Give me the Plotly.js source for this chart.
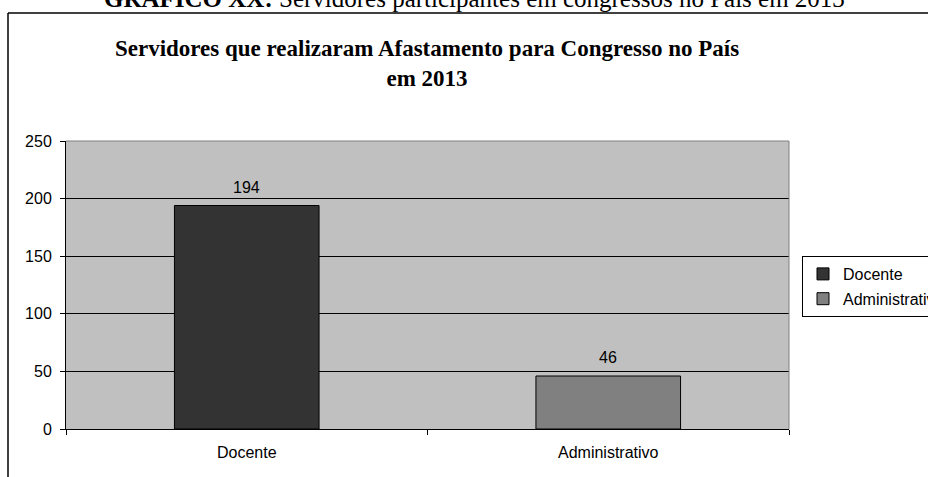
<!DOCTYPE html>
<html>
<head>
<meta charset="utf-8">
<script src="https://cdn.plot.ly/plotly-3.0.1.min.js"></script>
<style>html,body{margin:0;padding:0;background:#fff;}#chart{width:928px;height:477px;}</style>
</head>
<body>
<div id="chart"></div>
<script>
var categories = ["Docente", "Administrativo"];
var values = [194, 46];
var seriesNames = ["Docente", "Administrativo"];
var barColors = ["#333333", "#808080"];
var yTicks = [0, 50, 100, 150, 200, 250];

var W = 928, H = 477;
var L = 66, R = 789, T = 141, B = 429;
function px(x) { return (x - L) / (R - L); }
function py(y) { return (B - y) / (B - T); }

var sans = "Liberation Sans, Arial, sans-serif";
var serif = "Liberation Serif, Times New Roman, serif";

var traces = categories.map(function (c, i) {
  return {
    type: "bar",
    x: [c],
    y: [values[i]],
    name: seriesNames[i],
    legendgroup: "g" + i,
    marker: { color: barColors[i], line: { color: "#000", width: 1 } },
    width: 0.4,
    hoverinfo: "x+y"
  };
});

var annotations = categories.map(function (c, i) {
  return {
    x: c, y: values[i], xref: "x", yref: "y",
    text: String(values[i]), showarrow: false,
    yanchor: "bottom", yshift: 8,
    font: { family: sans, size: 16, color: "#000" }
  };
});
annotations.push({
  xref: "paper", yref: "paper", x: px(474), y: py(14), xanchor: "center", yanchor: "bottom",
  text: "<b>GRÁFICO XX:</b> Servidores participantes em congressos no País em 2013",
  showarrow: false,
  font: { family: serif, size: 25, color: "#000" }
});

var shapes = [
  { type: "line", xref: "paper", yref: "paper", x0: px(8), x1: px(940), y0: py(13), y1: py(13), line: { color: "#000", width: 1.5 } },
  { type: "line", xref: "paper", yref: "paper", x0: px(8), x1: px(8), y0: py(13), y1: py(490), line: { color: "#000", width: 1.5 } },
  { type: "line", xref: "paper", yref: "paper", x0: 0, x1: 1, y0: 1, y1: 1, line: { color: "#808080", width: 1 } },
  { type: "line", xref: "paper", yref: "paper", x0: 1, x1: 1, y0: 0, y1: 1, line: { color: "#808080", width: 1 } }
];

var layout = {
  width: W, height: H,
  margin: { l: L, r: W - R, t: T, b: H - B, autoexpand: false },
  paper_bgcolor: "#ffffff",
  plot_bgcolor: "#c0c0c0",
  title: {
    text: "<b>Servidores que realizaram Afastamento para Congresso no País<br>em 2013</b>",
    font: { family: serif, size: 23, color: "#000" },
    x: 427 / W, xanchor: "center",
    y: 1 - 56 / H, yanchor: "top", yref: "container"
  },
  font: { family: sans, size: 16, color: "#000" },
  bargap: 0.6,
  showlegend: true,
  legend: {
    x: px(802), xanchor: "left", y: py(256), yanchor: "top",
    bordercolor: "#000", borderwidth: 1, bgcolor: "#ffffff",
    font: { family: sans, size: 16, color: "#000" },
    traceorder: "grouped", tracegroupgap: 1
  },
  xaxis: {
    type: "category", categoryarray: categories,
    showline: true, linecolor: "#000", linewidth: 1,
    ticks: "outside", tickson: "boundaries", ticklen: 5, tickcolor: "#000",
    showgrid: false, zeroline: false,
    ticklabelstandoff: 9,
    tickfont: { family: sans, size: 16, color: "#000" }
  },
  yaxis: {
    range: [0, 250], tickvals: yTicks, ticktext: yTicks.map(String),
    showline: true, linecolor: "#000", linewidth: 1,
    ticks: "outside", ticklen: 5, tickcolor: "#000",
    showgrid: true, gridcolor: "#000", gridwidth: 1, zeroline: false,
    ticklabelstandoff: 5,
    tickfont: { family: sans, size: 16, color: "#000" }
  },
  annotations: annotations,
  shapes: shapes
};

Plotly.newPlot("chart", traces, layout, { displayModeBar: false, staticPlot: true });
</script>
</body>
</html>
